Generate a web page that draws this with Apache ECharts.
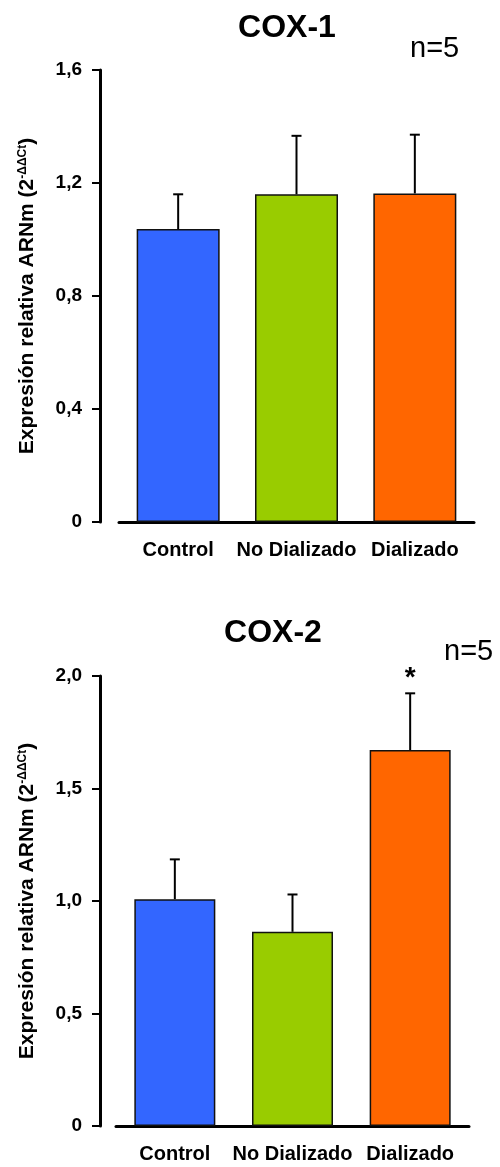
<!DOCTYPE html>
<html>
<head>
<meta charset="utf-8">
<script src="https://cdn.jsdelivr.net/npm/echarts@6/dist/echarts.min.js"></script>
<style>
  html, body { margin: 0; padding: 0; background: #fff; }
  #chart { width: 500px; height: 1167px; }
</style>
</head>
<body>
<div id="chart"></div>
<script>
// Groups and bar colours
const categories = ['Control', 'No Dializado', 'Dializado'];
const barColors = ['#3366FF', '#99CC00', '#FF6600'];

// COX-1 relative mRNA expression: mean and SEM per group
const cox1Mean = [1.037, 1.160, 1.163];
const cox1Sem = [0.123, 0.207, 0.208];
const cox1Ticks = [0, 0.4, 0.8, 1.2, 1.6];
const cox1TickLabels = ['0', '0,4', '0,8', '1,2', '1,6'];

// COX-2 relative mRNA expression: mean and SEM per group, significance marks
const cox2Mean = [1.008, 0.863, 1.671];
const cox2Sem = [0.177, 0.166, 0.252];
const cox2Sig = ['', '', '*'];
const cox2Ticks = [0, 0.5, 1.0, 1.5, 2.0];
const cox2TickLabels = ['0', '0,5', '1,0', '1,5', '2,0'];

const FONT = '"Liberation Sans", Arial, Helvetica, sans-serif';
const axisName = 'Expresión relativa ARNm (2{sup|-ΔΔCt})';

function tickFormatter(ticks, labels) {
  return function (v) {
    const k = ticks.findIndex(t => Math.abs(t - v) < 1e-9);
    return k >= 0 ? labels[k] : '';
  };
}

function yAxisFor(gridIndex, ticks, labels, offset) {
  return {
    type: 'value',
    gridIndex: gridIndex,
    min: ticks[0],
    max: ticks[ticks.length - 1],
    interval: ticks[1] - ticks[0],
    offset: offset,
    name: axisName,
    nameLocation: 'middle',
    nameGap: 62,
    nameTextStyle: {
      fontFamily: FONT, fontWeight: 'bold', fontSize: 21, color: '#000',
      rich: {
        sup: { fontFamily: FONT, fontWeight: 'bold', fontSize: 12, color: '#000', verticalAlign: 'top' }
      }
    },
    axisLine: { show: true, lineStyle: { color: '#000', width: 3 } },
    axisTick: { show: true, length: 8, lineStyle: { color: '#000', width: 2 } },
    axisLabel: {
      margin: 18, fontFamily: FONT, fontWeight: 'bold', fontSize: 19, color: '#000',
      formatter: tickFormatter(ticks, labels)
    },
    splitLine: { show: false }
  };
}

function xAxisFor(gridIndex) {
  return {
    type: 'category',
    gridIndex: gridIndex,
    data: categories,
    axisLine: { show: true, lineStyle: { color: '#000', width: 3 } },
    axisTick: { show: false },
    axisLabel: { margin: 18, fontFamily: FONT, fontWeight: 'bold', fontSize: 20, color: '#000', interval: 0 }
  };
}

function barSeries(idx, means, width) {
  return {
    type: 'bar',
    xAxisIndex: idx, yAxisIndex: idx,
    barWidth: width,
    data: means.map((v, i) => ({
      value: v,
      itemStyle: { color: barColors[i], borderColor: '#111', borderWidth: 1.5 }
    })),
    z: 2
  };
}

// Upward SEM whisker with a short cap, plus an optional significance mark
function errorSeries(idx, means, sems, sig) {
  return {
    type: 'custom',
    xAxisIndex: idx, yAxisIndex: idx,
    data: means.map((m, i) => [i, m, sems[i]]),
    encode: { x: 0, y: 1 },
    z: 3,
    renderItem: function (params, api) {
      const i = api.value(0);
      const mean = api.value(1);
      const sem = api.value(2);
      const base = api.coord([i, mean]);
      const top = api.coord([i, mean + sem]);
      const half = 5;
      const children = [
        { type: 'line', shape: { x1: base[0], y1: base[1], x2: top[0], y2: top[1] },
          style: { stroke: '#000', lineWidth: 2 } },
        { type: 'line', shape: { x1: top[0] - half, y1: top[1], x2: top[0] + half, y2: top[1] },
          style: { stroke: '#000', lineWidth: 2 } }
      ];
      if (sig && sig[i]) {
        children.push({
          type: 'text', x: top[0], y: top[1] - 15,
          style: { text: sig[i], align: 'center', verticalAlign: 'middle',
                   fontFamily: FONT, fontWeight: 'bold', fontSize: 28, fill: '#000' }
        });
      }
      return { type: 'group', children: children };
    }
  };
}

const chart = echarts.init(document.getElementById('chart'), null, { renderer: 'canvas' });

chart.setOption({
  backgroundColor: '#fff',
  animation: false,
  title: [
    { text: 'COX-1', left: 287, top: 12, textAlign: 'center', padding: 0,
      textStyle: { fontFamily: FONT, fontWeight: 'bold', fontSize: 32, color: '#000' } },
    { text: 'n=5', left: 410, top: 34, padding: 0,
      textStyle: { fontFamily: FONT, fontWeight: 'normal', fontSize: 29, color: '#000' } },
    { text: 'COX-2', left: 273, top: 617, textAlign: 'center', padding: 0,
      textStyle: { fontFamily: FONT, fontWeight: 'bold', fontSize: 32, color: '#000' } },
    { text: 'n=5', left: 444, top: 637, padding: 0,
      textStyle: { fontFamily: FONT, fontWeight: 'normal', fontSize: 29, color: '#000' } }
  ],
  grid: [
    { left: 119, top: 70, width: 355, height: 452 },
    { left: 116, top: 676, width: 353, height: 450 }
  ],
  xAxis: [xAxisFor(0), xAxisFor(1)],
  yAxis: [
    yAxisFor(0, cox1Ticks, cox1TickLabels, 19),
    yAxisFor(1, cox2Ticks, cox2TickLabels, 16)
  ],
  series: [
    barSeries(0, cox1Mean, 83),
    errorSeries(0, cox1Mean, cox1Sem, null),
    barSeries(1, cox2Mean, 81),
    errorSeries(1, cox2Mean, cox2Sem, cox2Sig)
  ]
});
</script>
</body>
</html>
